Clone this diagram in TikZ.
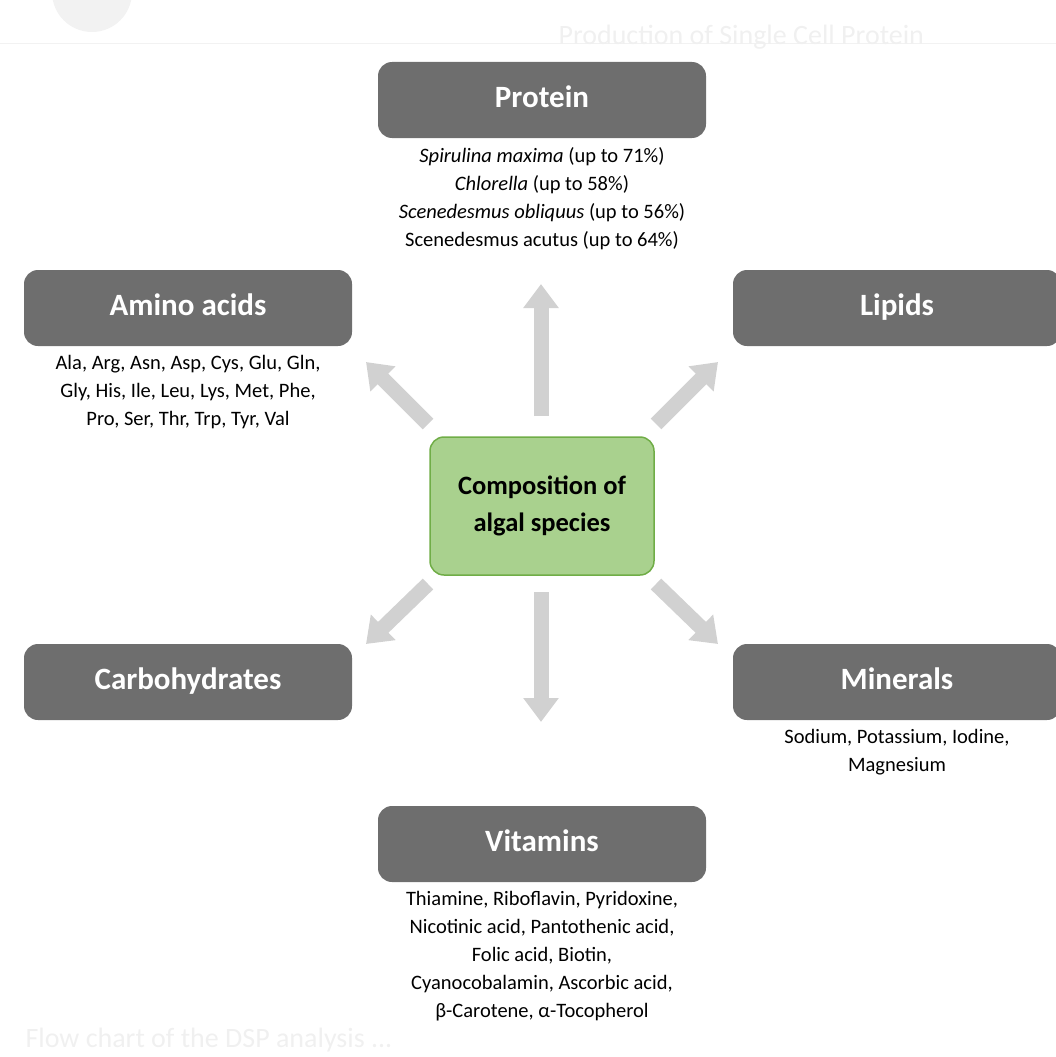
\documentclass[tikz,border=0pt]{standalone}
\usepackage{fontspec}
\setmainfont{Carlito}
\usetikzlibrary{arrows.meta,positioning}

\definecolor{algaeFill}{HTML}{A9D18E}
\definecolor{algaeLine}{HTML}{70AD47}

\tikzset{
  head/.style={draw=none,fill=black!57,rounded corners=14pt,minimum width=328pt,
    minimum height=76pt,text height=21pt,text depth=6pt,text=white,
    font=\fontsize{31}{35}\selectfont\bfseries},
  body/.style={align=center,font=\fontsize{20.5}{28}\selectfont},
  flow/.style={draw=black!18,line width=15pt,-{Triangle[width=34pt,length=24pt]}},
  ghost/.style={text=black!6,font=\fontsize{28}{32}\selectfont}
}

\begin{document}
\begin{tikzpicture}[x=1pt,y=-1pt]
  \useasboundingbox (0,0) rectangle (1056,1057);
  % screenshot leftovers
  \draw[black!5] (0,43) -- (1056,43);
  \fill[black!5] (92,-8) circle (40);
  \node[ghost,anchor=west] (hdr) at (555,37) {Production of Single Cell Protein};
  \node[ghost,anchor=west] (ftr) at (22,1040) {Flow chart of the DSP analysis ...};

  %Centre
  \node[draw=algaeLine,fill=algaeFill,line width=1.5pt,rounded corners=14pt,
    minimum width=224pt,minimum height=138pt,align=center,
    font=\fontsize{26.5}{37}\selectfont\bfseries] (comp) at (542,506) {Composition of\\algal species};

  %Headers
  \node[head] (prot) at (542,100) {Protein};
  \node[head] (amino) at (188,308) {Amino acids};
  \node[head] (lip) at (897,308) {Lipids};
  \node[head] (carb) at (188,682) {Carbohydrates};
  \node[head] (min) at (897,682) {Minerals};
  \node[head] (vit) at (542,844) {Vitamins};

  %Details
  \node[body,below=6pt of prot] (protTxt) {\textit{Spirulina maxima} (up to 71\%)\\\textit{Chlorella} (up to 58\%)\\
    \textit{Scenedesmus obliquus} (up to 56\%)\\Scenedesmus acutus (up to 64\%)};
  \node[body,below=6pt of amino] (aminoTxt) {Ala, Arg, Asn, Asp, Cys, Glu, Gln,\\Gly, His, Ile, Leu, Lys, Met, Phe,\\
    Pro, Ser, Thr, Trp, Tyr, Val};
  \node[body,below=6pt of min] (minTxt) {Sodium, Potassium, Iodine,\\Magnesium};
  \node[body,below=6pt of vit] (vitTxt) {Thiamine, Riboflavin, Pyridoxine,\\Nicotinic acid, Pantothenic acid,\\
    Folic acid, Biotin,\\Cyanocobalamin, Ascorbic acid,\\β-Carotene, α-Tocopherol};

  %Arrow ends
  \coordinate (sN) at (541,416);  \coordinate (eN) at (541,284);
  \coordinate (sS) at (541,592);  \coordinate (eS) at (541,722);
  \coordinate (sNW) at (428,424); \coordinate (eNW) at (366,362);
  \coordinate (sNE) at (656,424); \coordinate (eNE) at (718,362);
  \coordinate (sSW) at (428,584); \coordinate (eSW) at (366,644);
  \coordinate (sSE) at (656,584); \coordinate (eSE) at (718,644);

  \foreach \d in {N,S,NW,NE,SW,SE}
    \draw[flow] (s\d) -- (e\d);
\end{tikzpicture}
\end{document}
